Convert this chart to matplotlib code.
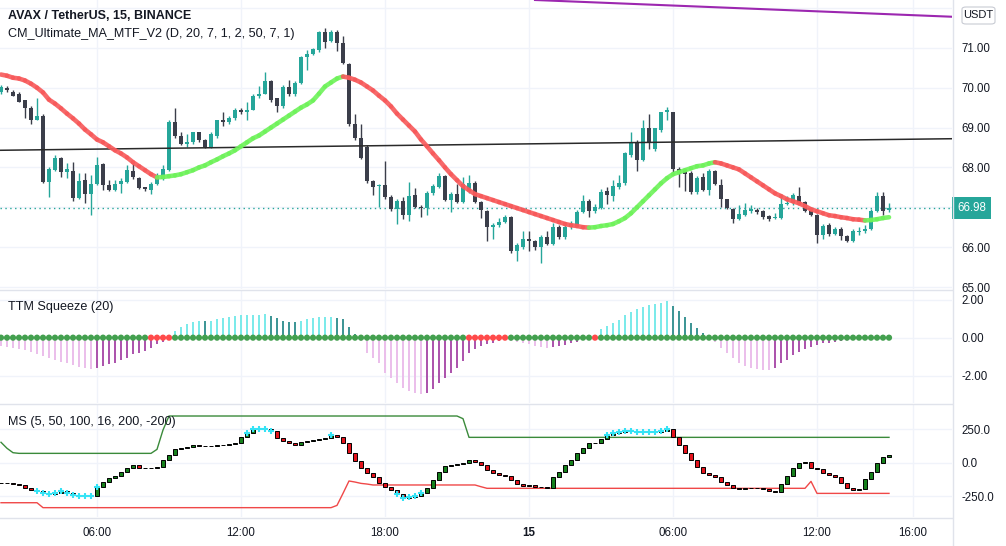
import numpy as np
import matplotlib.pyplot as plt
from matplotlib.collections import LineCollection
from matplotlib.patches import Rectangle, FancyBboxPatch
from matplotlib.lines import Line2D
import matplotlib.transforms as mtransforms

plt.rcParams['font.family'] = ['Liberation Sans', 'DejaVu Sans']

# 15 min bars, 14th 02:00 -> 15th 15:00
opens = [69.88, 70.00, 69.90, 69.83, 69.68, 69.50, 69.20, 69.28, 67.63, 67.93,
         68.23, 67.88, 67.90, 67.23, 67.68, 67.33, 67.58, 68.08, 67.55, 67.43,
         67.58, 67.63, 67.90, 67.73, 67.50, 67.43, 67.58, 67.70, 67.93, 69.13,
         68.78, 68.60, 68.63, 68.88, 68.70, 68.50, 68.78, 69.18, 69.13, 69.25,
         69.43, 69.38, 69.45, 69.78, 69.85, 70.18, 69.73, 69.53, 70.03, 69.83,
         70.13, 70.78, 70.85, 70.95, 71.40, 71.18, 71.40, 71.13, 70.60, 69.10,
         68.73, 68.50, 67.65, 67.53, 67.55, 67.25, 66.95, 67.15, 66.80, 67.30,
         67.00, 66.98, 67.35, 67.50, 67.78, 67.18, 67.33, 67.13, 67.40, 67.60,
         67.13, 66.90, 66.50, 66.55, 66.63, 66.75, 65.90, 66.00, 66.20, 66.15,
         66.00, 66.25, 66.08, 66.50, 66.25, 66.50, 66.53, 66.88, 67.15, 66.90,
         66.98, 67.40, 67.28, 67.50, 67.60, 68.30, 68.65, 68.18, 68.98, 68.45,
         68.93, 69.40, 69.38, 67.95, 67.90, 67.85, 67.38, 67.75, 67.43, 67.90,
         67.55, 67.20, 66.95, 66.70, 66.80, 66.90, 66.93, 66.90, 66.78, 66.73,
         66.73, 67.08, 67.10, 67.28, 67.13, 66.90, 66.80, 66.30, 66.55, 66.33,
         66.45, 66.28, 66.15, 66.38, 66.40, 66.45, 66.90, 67.28, 66.93]
highs = [70.08, 70.05, 69.93, 69.90, 69.70, 69.55, 69.73, 69.35, 68.00, 68.30,
         68.25, 68.10, 68.13, 67.85, 67.85, 67.80, 68.25, 68.10, 67.68, 67.68,
         67.73, 68.05, 68.10, 67.75, 67.52, 67.63, 67.85, 68.05, 69.20, 69.50,
         68.88, 68.83, 68.90, 68.90, 68.72, 68.88, 69.20, 69.40, 69.30, 69.48,
         69.50, 69.65, 69.83, 70.05, 70.40, 70.20, 69.75, 70.08, 70.20, 70.18,
         70.80, 70.95, 71.00, 71.42, 71.50, 71.45, 71.45, 71.30, 70.62, 69.35,
         69.10, 68.55, 67.68, 67.58, 68.15, 67.30, 67.20, 67.25, 67.63, 67.48,
         67.05, 67.40, 67.58, 67.85, 67.80, 67.38, 67.58, 67.75, 67.80, 67.65,
         67.15, 66.93, 66.60, 66.73, 66.80, 66.78, 66.10, 66.40, 66.40, 66.18,
         66.30, 66.40, 66.60, 66.55, 66.55, 66.65, 66.93, 67.30, 67.20, 67.08,
         67.45, 67.50, 67.68, 67.80, 68.38, 68.88, 68.70, 69.18, 69.35, 69.00,
         69.40, 69.52, 69.40, 68.00, 67.95, 67.90, 67.78, 67.85, 67.95, 67.93,
         67.70, 67.22, 66.98, 67.05, 67.10, 67.05, 66.98, 66.93, 66.80, 66.85,
         67.33, 67.28, 67.35, 67.50, 67.15, 66.93, 66.82, 66.58, 66.60, 66.50,
         66.50, 66.30, 66.45, 66.50, 66.55, 66.95, 67.38, 67.38, 67.10]
lows = [69.85, 69.90, 69.78, 69.63, 69.25, 69.10, 69.18, 67.60, 67.25, 67.90,
        67.75, 67.73, 67.15, 67.20, 67.10, 66.80, 67.55, 67.43, 67.40, 67.40,
        67.35, 67.60, 67.70, 67.45, 67.40, 67.33, 67.55, 67.68, 67.90, 68.75,
        68.55, 68.50, 68.58, 68.65, 68.48, 68.48, 68.75, 69.05, 69.10, 69.20,
        69.35, 69.20, 69.43, 69.75, 69.83, 69.65, 69.38, 69.50, 69.80, 69.80,
        70.10, 70.45, 70.83, 70.90, 71.00, 71.15, 70.93, 70.60, 69.03, 68.70,
        68.20, 67.60, 67.30, 67.00, 67.20, 66.90, 66.58, 66.70, 66.65, 66.98,
        66.75, 66.80, 67.30, 67.48, 67.15, 66.88, 67.10, 67.10, 67.35, 67.10,
        66.73, 66.15, 66.20, 66.50, 66.60, 65.85, 65.65, 65.95, 65.90, 65.93,
        65.60, 66.05, 66.05, 66.20, 66.20, 66.45, 66.50, 66.85, 66.75, 66.85,
        66.95, 67.08, 67.15, 67.45, 67.55, 68.25, 67.90, 68.15, 68.45, 68.40,
        68.90, 69.20, 67.80, 67.50, 67.40, 67.33, 67.33, 67.40, 67.30, 67.55,
        67.00, 66.95, 66.60, 66.68, 66.78, 66.85, 66.83, 66.70, 66.65, 66.70,
        66.70, 67.05, 67.05, 67.10, 66.88, 66.78, 66.10, 66.20, 66.28, 66.30,
        66.18, 66.12, 66.13, 66.30, 66.35, 66.43, 66.88, 66.80, 66.88]
closes = [70.03, 69.93, 69.80, 69.65, 69.50, 69.20, 69.30, 67.63, 67.95, 68.23,
          67.88, 67.95, 67.23, 67.65, 67.33, 67.58, 68.05, 67.55, 67.43, 67.58,
          67.65, 67.93, 67.75, 67.48, 67.45, 67.58, 67.78, 67.95, 69.15, 68.78,
          68.58, 68.65, 68.88, 68.68, 68.50, 68.83, 69.18, 69.15, 69.25, 69.43,
          69.38, 69.45, 69.80, 69.85, 70.18, 69.70, 69.53, 70.03, 69.83, 70.13,
          70.78, 70.85, 70.98, 71.40, 71.15, 71.40, 71.13, 70.63, 69.10, 68.73,
          68.23, 67.65, 67.50, 67.55, 67.25, 66.95, 67.15, 66.80, 67.28, 67.00,
          66.98, 67.35, 67.53, 67.78, 67.18, 67.33, 67.13, 67.58, 67.60, 67.13,
          66.93, 66.50, 66.55, 66.63, 66.75, 65.90, 66.05, 66.20, 66.15, 66.00,
          66.25, 66.08, 66.50, 66.25, 66.50, 66.58, 66.88, 67.15, 66.90, 67.00,
          67.38, 67.30, 67.53, 67.60, 68.35, 68.65, 68.18, 68.98, 68.63, 68.98,
          69.38, 69.42, 67.95, 67.90, 67.83, 67.38, 67.73, 67.43, 67.90, 67.58,
          67.20, 66.98, 66.70, 66.83, 66.93, 66.95, 66.88, 66.75, 66.70, 66.75,
          67.08, 67.10, 67.30, 67.13, 66.90, 66.80, 66.30, 66.53, 66.33, 66.45,
          66.28, 66.15, 66.40, 66.40, 66.45, 66.90, 67.28, 66.90, 66.98]

# CM_Ultimate_MA line
ma = [70.33, 70.30, 70.25, 70.23, 70.18, 70.10, 70.00, 69.88, 69.70, 69.60,
      69.48, 69.35, 69.23, 69.10, 68.95, 68.83, 68.70, 68.63, 68.53, 68.43,
      68.35, 68.25, 68.13, 68.03, 67.93, 67.83, 67.75, 67.76, 67.78, 67.80,
      67.83, 67.88, 67.93, 68.00, 68.05, 68.13, 68.20, 68.28, 68.35, 68.43,
      68.53, 68.63, 68.73, 68.80, 68.90, 69.00, 69.10, 69.20, 69.30, 69.40,
      69.50, 69.58, 69.68, 69.85, 70.03, 70.13, 70.23, 70.28, 70.25, 70.20,
      70.13, 70.03, 69.93, 69.80, 69.68, 69.53, 69.35, 69.20, 69.05, 68.90,
      68.70, 68.53, 68.35, 68.18, 68.00, 67.83, 67.68, 67.53, 67.43, 67.33,
      67.28, 67.23, 67.18, 67.13, 67.08, 67.03, 66.98, 66.93, 66.88, 66.83,
      66.78, 66.73, 66.68, 66.63, 66.58, 66.55, 66.53, 66.50, 66.49, 66.50,
      66.53, 66.55, 66.58, 66.65, 66.73, 66.85, 67.00, 67.15, 67.30, 67.45,
      67.60, 67.73, 67.83, 67.88, 67.93, 67.98, 68.03, 68.05, 68.10, 68.13,
      68.10, 68.05, 68.00, 67.95, 67.85, 67.75, 67.65, 67.55, 67.45, 67.35,
      67.28, 67.20, 67.15, 67.10, 67.03, 66.95, 66.90, 66.85, 66.80, 66.78,
      66.75, 66.73, 66.70, 66.69, 66.67, 66.68, 66.70, 66.73, 66.75]

last_price = 66.98
black_line = [(-0.17, 68.43), (158.5, 68.72)]
purple_line = [(89.0, 72.20), (158.5, 71.78)]

# TTM squeeze momentum
squeeze = [-0.44, -0.49, -0.56, -0.61, -0.67, -0.74, -0.84, -0.96, -1.09, -1.18,
           -1.26, -1.35, -1.44, -1.54, -1.61, -1.63, -1.58, -1.49, -1.40, -1.32,
           -1.19, -1.05, -0.88, -0.79, -0.70, -0.53, -0.35, -0.21, -0.14,
           0.35, 0.58, 0.74, 0.84, 0.88, 0.86, 0.88, 0.96, 1.05, 1.10,
           1.14, 1.18, 1.19, 1.20, 1.21, 1.22, 1.14, 1.02, 0.88, 0.84,
           0.83, 0.88, 0.96, 1.05, 1.08, 1.10, 1.11, 1.05, 0.96, 0.56, 0.18,
           -0.20, -0.79, -1.05, -1.32, -1.84, -2.14, -2.37, -2.63, -2.81, -2.89,
           -2.98, -2.89, -2.72, -2.37, -2.14, -1.84, -1.58, -1.23, -0.79, -0.61,
           -0.44, -0.35, -0.26, -0.18,
           -0.12, -0.16, -0.21, -0.26, -0.33, -0.44, -0.51, -0.56, -0.51, -0.44,
           -0.39, -0.30, -0.21, -0.12, -0.05,
           0.10, 0.44, 0.61, 0.75, 0.93, 1.19, 1.37, 1.49, 1.60, 1.72,
           1.77, 1.84, 1.93, 1.67, 1.42, 1.11, 0.79, 0.49, 0.23, 0.05,
           -0.21, -0.56, -0.82, -1.09, -1.35, -1.49, -1.61, -1.67, -1.70, -1.72,
           -1.61, -1.35, -1.18, -0.91, -0.74, -0.61, -0.51, -0.39, -0.30, -0.26,
           -0.21, -0.16, -0.16, -0.12, -0.12, -0.12, -0.07, -0.05, -0.03, -0.02]
squeeze_on = [25, 26, 27, 28, 78, 79, 80, 81, 82, 83, 84, 99]

# MS oscillator
ms = [-152, -155, -159, -170, -186, -201, -212, -224, -231, -224,
      -212, -224, -242, -246, -250, -250, -184, -142, -116, -99,
      -73, -40, -20, -38, -40, -36, -30, 18, 61, 99,
      111, 119, 129, 127, 125, 126, 130, 136, 142, 150,
      190, 225, 250, 255, 256, 237, 187, 161, 145, 136,
      154, 161, 169, 180, 187, 205, 193, 149, 73, 10,
      -40, -78, -104, -154, -179, -205, -235, -262, -255, -250,
      -230, -192, -129, -66, -28, -15, -10, -3, 18, 3,
      -15, -53, -78, -91, -100, -130, -160, -172, -165, -180,
      -185, -186, -110, -67, -17, 20, 70, 113, 145, 150,
      175, 205, 220, 230, 240, 240, 230, 228, 233, 233,
      240, 250, 195, 133, 70, 20, -30, -75, -92, -105,
      -142, -170, -190, -198, -190, -190, -192, -200, -210, -217,
      -160, -100, -42, 0, 5, -42, -50, -75, -92, -105,
      -155, -190, -205, -195, -125, -67, -5, 40, 58]
ms_upper = [153, 108, 75] + [70] * 23 + [100, 245] + [350] * 49 + [330] + [190] * 71
ms_lower = [-300] * 7 + [-337] * 49 + [-320, -230, -137, -145, -155, -160] + [-167] * 18 + \
           [-180] + [-192] * 54 + [-140] + [-230] * 13
ms_cross = list(range(6, 17)) + list(range(41, 46)) + [55] + list(range(66, 71)) + list(range(101, 112))

time_pos = [16, 40, 64, 88, 112, 136, 152]
time_lbl = ['06:00', '12:00', '18:00', '15', '06:00', '12:00', '16:00']

TEAL = '#26a69a'
DARK = '#3b3e4a'
GRID = '#f0f3fa'
SEP = '#e0e3eb'
TXT = '#131722'

W, H = 1006, 546
fig = plt.figure(figsize=(W / 100, H / 100), dpi=100)


def box(x0, y0, x1, y1):
    return [x0 / W, 1 - y1 / H, (x1 - x0) / W, (y1 - y0) / H]


ax1 = fig.add_axes(box(0, 0, 952, 289))
ax2 = fig.add_axes(box(0, 290, 952, 403))
ax3 = fig.add_axes(box(0, 404, 952, 517))

n = len(closes)
idx = np.arange(n)
for ax in (ax1, ax2, ax3):
    ax.set_xlim(-1 / 6, 158.5)
    for s in ax.spines.values():
        s.set_visible(False)
    ax.set_xticks(time_pos)
    ax.yaxis.tick_right()
    ax.tick_params(axis='both', length=0, labelsize=8.3, labelcolor=TXT)
    ax.tick_params(axis='y', pad=7)
    ax.grid(True, color=GRID, lw=1)
    ax.set_axisbelow(True)
ax1.set_xticklabels([])
ax2.set_xticklabels([])
ax3.set_xticklabels(time_lbl)
ax3.tick_params(axis='x', pad=7)
ax3.get_xticklabels()[3].set_fontweight('bold')

# ---- price panel
o = np.array(opens); c = np.array(closes); hi = np.array(highs); lo = np.array(lows)
cols = np.where(c >= o, TEAL, DARK)
ax1.vlines(idx, lo, hi, colors=cols, lw=1, zorder=2)
ax1.bar(idx, np.maximum(np.abs(c - o), 0.03), 0.68, np.minimum(o, c), color=cols, lw=0, zorder=2)

ma = np.array(ma)
segs, scol = [], []
rising = False
for i in range(1, n):
    if ma[i] != ma[i - 1]:
        rising = ma[i] > ma[i - 1]
    segs.append([(i - 1, ma[i - 1]), (i, ma[i])])
    scol.append('#6ef25a' if rising else '#f7595a')
ax1.add_collection(LineCollection(segs, colors=scol, lw=3.3, capstyle='round', zorder=3, alpha=0.9))

ax1.plot(*zip(*black_line), color='#2a2a2a', lw=1.1, zorder=2)
ax1.plot(*zip(*purple_line), color='#9c27b0', lw=1.5, zorder=2)
ax1.axhline(last_price, color=TEAL, ls=(0, (1, 2.5)), lw=1, zorder=1)

ax1.set_ylim(64.95, 72.2)
ax1.set_yticks(range(65, 73))
ax1.set_yticklabels(['65.00', '66.00', '', '68.00', '69.00', '70.00', '71.00', ''])
tr = mtransforms.blended_transform_factory(ax1.transAxes, ax1.transData)
ax1.text(1.0 + 5 / 952, last_price, '66.98', transform=tr, ha='left', va='center', fontsize=8.3,
         color='white', clip_on=False, zorder=10,
         bbox=dict(boxstyle='square,pad=0.42', fc=TEAL, ec='none'))

# ---- squeeze panel
sq = np.array(squeeze)
sq_cols = []
for i in range(n):
    prev = sq[i - 1] if i > 0 else sq[i]
    if sq[i] >= 0:
        sq_cols.append('#7ceaea' if sq[i] >= prev else '#3f9696')
    else:
        sq_cols.append('#ebbfeb' if sq[i] <= prev else '#ad55ad')
ax2.bar(idx, sq, 0.36, color=sq_cols, lw=0, zorder=2)
dot_cols = ['#ff4a4a' if i in squeeze_on else '#43a04f' for i in range(n)]
ax2.scatter(idx, np.zeros(n), s=20, c=dot_cols, lw=0, zorder=3)
ax2.set_ylim(-3.44, 2.51)
ax2.set_yticks([2, 0, -2])
ax2.set_yticklabels(['2.00', '0.00', '-2.00'])

# ---- MS panel
msv = np.array(ms, dtype=float)
ax3.plot(idx, ms_upper, color='#3a8a3a', lw=1, zorder=2)
ax3.plot(idx, ms_lower, color='#f04848', lw=1, zorder=2)
for i in range(n):
    prev = msv[i - 1] if i > 0 else msv[i] + 3
    b = min(prev, msv[i])
    hgt = abs(msv[i] - prev)
    fc = '#16801c' if msv[i] > prev else '#e3131c'
    ax3.add_patch(Rectangle((i - 0.33, b), 0.66, hgt, fc=fc, ec='black', lw=0.7, zorder=3))
ax3.plot(ms_cross, msv[ms_cross], '+', color='#36e3f5', ms=5, mew=1.5, zorder=4)
ax3.set_ylim(-407, 440)
ax3.set_yticks([250, 0, -250])
ax3.set_yticklabels(['250.0', '0.0', '-250.0'])

# ---- separators and labels
fig.add_artist(Line2D([0, 952 / W], [1 - 289.5 / H] * 2, color=SEP, lw=1))
fig.add_artist(Line2D([0, 952 / W], [1 - 403.5 / H] * 2, color=SEP, lw=1))
fig.add_artist(Line2D([0, 952 / W], [1 - 517.5 / H] * 2, color=SEP, lw=1))
fig.add_artist(Line2D([952.5 / W] * 2, [0, 1], color=SEP, lw=1))

fig.text(8 / W, 1 - 16 / H, 'AVAX / TetherUS, 15, BINANCE', fontsize=9, fontweight='bold',
         color=TXT, va='center')
fig.text(8 / W, 1 - 34 / H, 'CM_Ultimate_MA_MTF_V2 (D, 20, 7, 1, 2, 50, 7, 1)', fontsize=9.1,
         color=TXT, va='center')
fig.text(8 / W, 1 - 307 / H, 'TTM Squeeze (20)', fontsize=9.1, color=TXT, va='center')
fig.text(8 / W, 1 - 422 / H, 'MS (5, 50, 100, 16, 200, -200)', fontsize=9.1, color=TXT, va='center')

fig.add_artist(FancyBboxPatch((962 / W, 1 - 24 / H), 33 / W, 17 / H,
                              boxstyle='round,pad=0,rounding_size=0.004',
                              transform=fig.transFigure, fc='white', ec='#c8cbd3', lw=0.8, zorder=5))
fig.text(978.5 / W, 1 - 15.5 / H, 'USDT', fontsize=8, color=TXT, ha='center', va='center', zorder=6)

fig.savefig('out.png', dpi=100, facecolor='white')
